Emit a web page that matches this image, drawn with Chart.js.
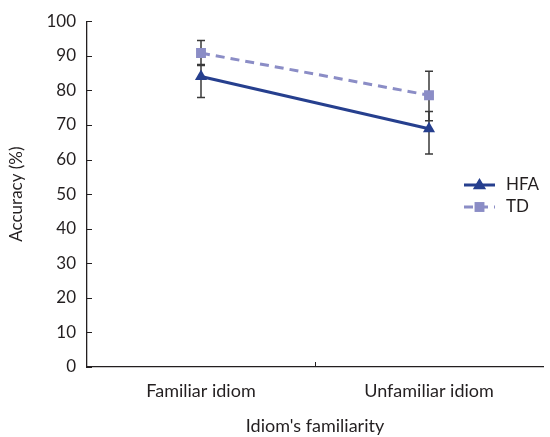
<!DOCTYPE html>
<html>
<head>
<meta charset="utf-8">
<script src="https://cdn.jsdelivr.net/npm/chart.js@4/dist/chart.umd.min.js"></script>
<style>
  html, body { margin: 0; padding: 0; background: #fff; }
  #wrap { width: 550px; height: 437px; }
</style>
</head>
<body>
<div id="wrap"><canvas id="idiomChart" width="550" height="437"></canvas></div>
<script>
// values
const categories = ['Familiar idiom', 'Unfamiliar idiom'];
const hfaValues = [84.0, 68.9];
const hfaErrUp = [3.5, 5.0];
const hfaErrDown = [6.1, 7.3];
const tdValues = [90.8, 78.6];
const tdErrUp = [3.6, 6.9];
const tdErrDown = [3.6, 7.4];
const yTicks = [0, 10, 20, 30, 40, 50, 60, 70, 80, 90, 100];

const FONT = 'Lato, "Liberation Sans", sans-serif';
const hfaColor = '#263f8e';
const tdColor = '#8b8dc6';
const textColor = '#231f20';

function marker(ctx, style, x, y, r, color) {
  ctx.save();
  ctx.fillStyle = color;
  ctx.beginPath();
  if (style === 'triangle') {
    ctx.moveTo(x, y - r);
    ctx.lineTo(x + r * 0.95, y + r * 0.6);
    ctx.lineTo(x - r * 0.95, y + r * 0.6);
  } else {
    const s = r * Math.SQRT1_2;
    ctx.rect(x - s, y - s, 2 * s, 2 * s);
  }
  ctx.closePath();
  ctx.fill();
  ctx.restore();
}

// error bars, drawn under the lines and markers
const errorBars = {
  id: 'errorBars',
  beforeDatasetsDraw(chart) {
    const ctx = chart.ctx;
    const x = chart.scales.x, y = chart.scales.y;
    const sets = [[hfaValues, hfaErrUp, hfaErrDown], [tdValues, tdErrUp, tdErrDown]];
    ctx.save();
    ctx.strokeStyle = '#3a3a3a';
    ctx.lineWidth = 1.5;
    sets.forEach(([vals, up, down]) => {
      vals.forEach((v, i) => {
        const px = x.getPixelForValue(i);
        const top = y.getPixelForValue(v + up[i]);
        const bot = y.getPixelForValue(v - down[i]);
        ctx.beginPath();
        ctx.moveTo(px, top); ctx.lineTo(px, bot);
        ctx.moveTo(px - 4, top); ctx.lineTo(px + 4, top);
        ctx.moveTo(px - 4, bot); ctx.lineTo(px + 4, bot);
        ctx.stroke();
      });
    });
    ctx.restore();
  }
};

// inward tick marks on the axes
const innerTicks = {
  id: 'innerTicks',
  afterDraw(chart) {
    const ctx = chart.ctx;
    const x = chart.scales.x, y = chart.scales.y;
    const area = chart.chartArea;
    ctx.save();
    ctx.strokeStyle = '#231f20';
    ctx.lineWidth = 1;
    y.ticks.forEach(t => {
      const py = Math.round(y.getPixelForValue(t.value)) + 0.5;
      ctx.beginPath();
      ctx.moveTo(area.left, py); ctx.lineTo(area.left + 5, py);
      ctx.stroke();
    });
    for (let i = 1; i < categories.length; i++) {
      const px = Math.round((x.getPixelForValue(i - 1) + x.getPixelForValue(i)) / 2) + 0.5;
      ctx.beginPath();
      ctx.moveTo(px, area.bottom); ctx.lineTo(px, area.bottom - 5);
      ctx.stroke();
    }
    ctx.restore();
  }
};

// legend placed inside the plot on the right
const sideLegend = {
  id: 'sideLegend',
  afterDraw(chart) {
    const ctx = chart.ctx;
    const x0 = 464, x1 = 495, tx = 506;
    const rows = [185, 207];
    ctx.save();
    chart.data.datasets.forEach((ds, i) => {
      const yy = rows[i];
      ctx.strokeStyle = ds.borderColor;
      ctx.lineWidth = ds.borderWidth;
      ctx.setLineDash(ds.borderDash || []);
      ctx.beginPath();
      ctx.moveTo(x0, yy); ctx.lineTo(x1, yy);
      ctx.stroke();
      ctx.setLineDash([]);
      marker(ctx, ds.pointStyle, (x0 + x1) / 2, yy, ds.pointRadius, ds.pointBackgroundColor);
      ctx.fillStyle = textColor;
      ctx.font = '17px ' + FONT;
      ctx.textBaseline = 'middle';
      ctx.fillText(ds.label, tx, yy);
    });
    ctx.restore();
  }
};

new Chart(document.getElementById('idiomChart'), {
  type: 'line',
  data: {
    labels: categories,
    datasets: [
      {
        label: 'HFA',
        data: hfaValues,
        borderColor: hfaColor,
        borderWidth: 3,
        pointStyle: 'triangle',
        pointRadius: 7,
        pointBackgroundColor: hfaColor,
        pointBorderColor: hfaColor,
        pointBorderWidth: 0,
        tension: 0
      },
      {
        label: 'TD',
        data: tdValues,
        borderColor: tdColor,
        borderWidth: 3,
        borderDash: [9, 6],
        pointStyle: 'rect',
        pointRadius: 7,
        pointBackgroundColor: tdColor,
        pointBorderColor: tdColor,
        pointBorderWidth: 0,
        tension: 0
      }
    ]
  },
  options: {
    responsive: false,
    animation: false,
    layout: { padding: { top: 10, right: 0, bottom: 0, left: 0 } },
    plugins: {
      legend: { display: false },
      tooltip: { enabled: false }
    },
    scales: {
      x: {
        type: 'category',
        offset: true,
        grid: { display: false, drawTicks: false },
        border: { display: true, color: '#231f20', width: 1.3 },
        ticks: { color: textColor, font: { family: FONT, size: 18 }, padding: 13, maxRotation: 0 },
        title: {
          display: true,
          text: "Idiom's familiarity",
          color: textColor,
          font: { family: FONT, size: 18 },
          padding: { top: 10, bottom: 0 }
        },
        afterFit(scale) { scale.height = 70; }
      },
      y: {
        min: 0,
        max: 100,
        afterBuildTicks(scale) { scale.ticks = yTicks.map(v => ({ value: v })); },
        grid: { display: false, drawTicks: false },
        border: { display: true, color: '#231f20', width: 1.3 },
        ticks: { color: textColor, font: { family: FONT, size: 17 }, padding: 11 },
        title: {
          display: true,
          text: 'Accuracy (%)',
          color: textColor,
          font: { family: FONT, size: 17 },
          padding: { top: 6, bottom: 0 }
        },
        afterFit(scale) { scale.width = 87; }
      }
    }
  },
  plugins: [errorBars, innerTicks, sideLegend]
});
</script>
</body>
</html>
